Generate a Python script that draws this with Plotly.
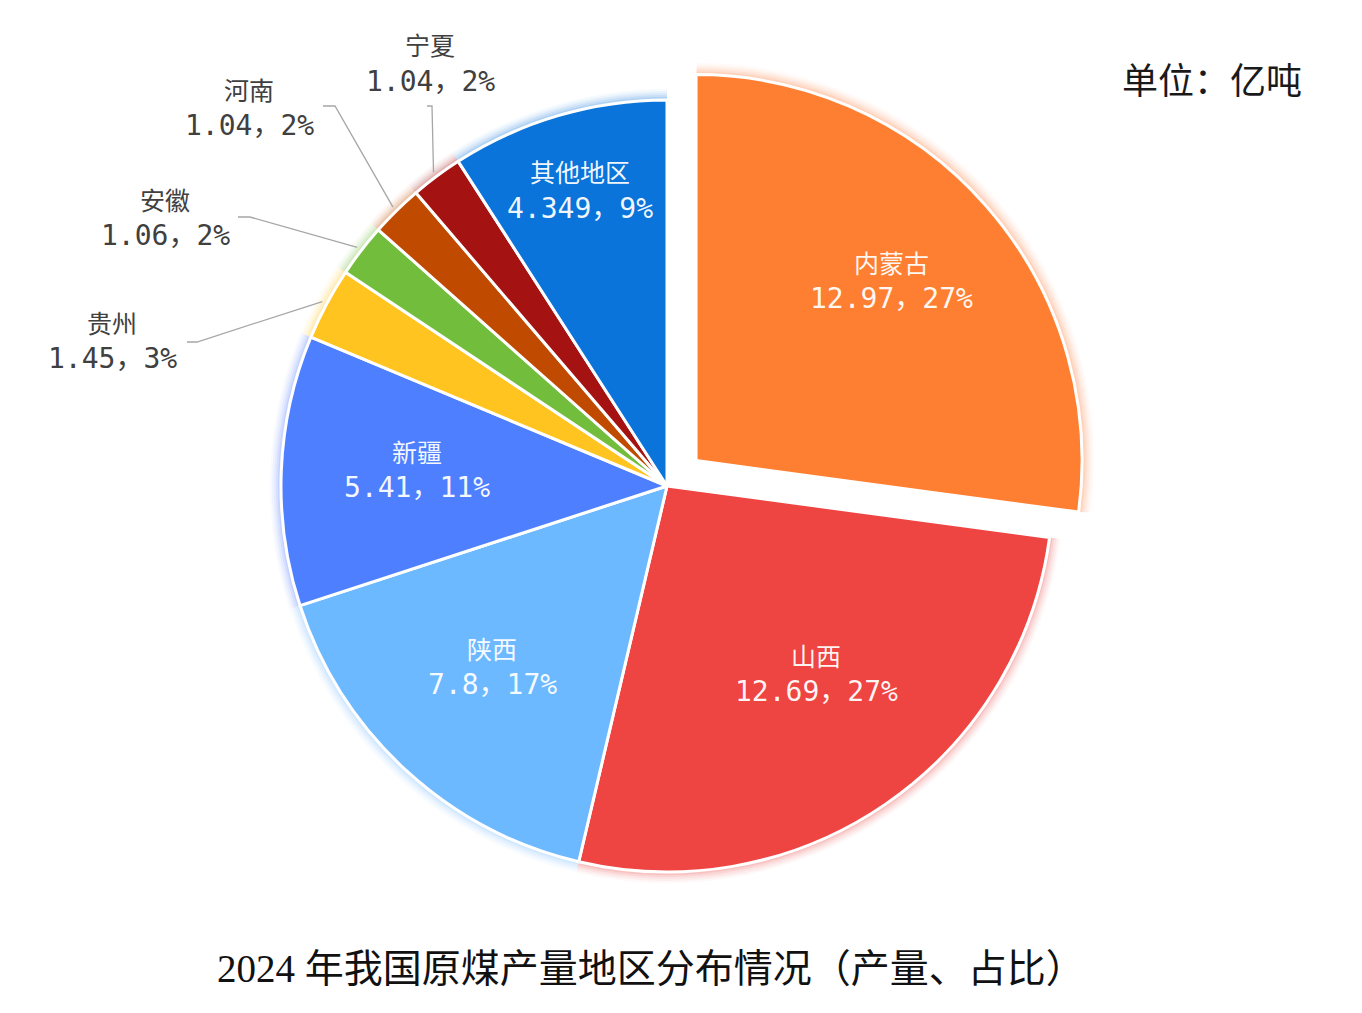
import math
import plotly.graph_objects as go

# ---------------- data ----------------
regions = ["内蒙古", "山西", "陕西", "新疆", "贵州", "安徽", "河南", "宁夏", "其他地区"]
output_yi_t = [12.97, 12.69, 7.8, 5.41, 1.45, 1.06, 1.04, 1.04, 4.349]
value_text = ["12.97", "12.69", "7.8", "5.41", "1.45", "1.06", "1.04", "1.04", "4.349"]
share_text = ["27%", "27%", "17%", "11%", "3%", "2%", "2%", "2%", "9%"]

# ---------------- styling ----------------
colors = ["#FF7F32", "#EE4442", "#6CB9FF", "#4E7FFF", "#FFC41F",
          "#72BE3C", "#C04B00", "#A51212", "#0A74DA"]
pull_list = [0.10, 0, 0, 0, 0, 0, 0, 0, 0]

W, H = 1362, 1013
CX, CY = 667, 486          # pie centre (px)
R = 386                    # pie radius (px)
max_pull = max(pull_list)

def px(x):
    return x / W

def py(y):
    return 1 - y / H

def domain_for(radius):
    half = radius * (1 + max_pull)
    return dict(x=[px(CX - half), px(CX + half)],
                y=[py(CY + half), py(CY - half)])

def rgba(hexc, a):
    h = hexc.lstrip("#")
    r, g, b = int(h[0:2], 16), int(h[2:4], 16), int(h[4:6], 16)
    return f"rgba({r},{g},{b},{a})"

fig = go.Figure()

# soft glow layers underneath
for extra, alpha in [(11, 0.04), (9, 0.05), (7, 0.07), (5, 0.09), (3, 0.12)]:
    fig.add_trace(go.Pie(
        labels=regions, values=output_yi_t, sort=False, direction="clockwise",
        rotation=0, pull=pull_list, domain=domain_for(R + extra),
        marker=dict(colors=[rgba(c, alpha) for c in colors], line=dict(width=0)),
        textinfo="none", hoverinfo="skip", showlegend=False,
    ))

# main pie
fig.add_trace(go.Pie(
    labels=regions, values=output_yi_t, sort=False, direction="clockwise",
    rotation=0, pull=pull_list, domain=domain_for(R),
    marker=dict(colors=colors, line=dict(color="white", width=3)),
    textinfo="none", hoverinfo="label+value+percent", showlegend=False,
))

# ---------------- label geometry derived from the data ----------------
total = sum(output_yi_t)
mid_angles = []
acc = 0.0
for v in output_yi_t:
    mid_angles.append((acc + v / 2) / total * 360.0)
    acc += v

def polar(cx, cy, ang, rad):
    a = math.radians(ang)
    return cx + rad * math.sin(a), cy - rad * math.cos(a)

name_font = dict(family="Noto Sans CJK SC", size=25)
val_font = dict(family="DejaVu Sans Mono, Noto Sans CJK SC", size=28)
LINE_GAP = 37

annotations = []
shapes = []

# inside labels: (angle shift in degrees, radius fraction) relative to slice mid-angle
inside_r = {"内蒙古": (-1.5, 0.69), "山西": (-4.0, 0.62), "陕西": (1.5, 0.65),
            "新疆": (1.5, 0.65), "其他地区": (0.0, 0.80)}
# outside labels: label centre (px), leader end and bend (px)
outside_pos = {
    "贵州": ((112, 340), [(187, 342), (197, 342)]),
    "安徽": ((165, 217), [(238, 217), (250, 217)]),
    "河南": ((249, 107), [(323, 106), (335, 106)]),
    "宁夏": ((430, 63), [(427, 106), (432, 106)]),
}

for i, name in enumerate(regions):
    ang = mid_angles[i]
    p = pull_list[i]
    ccx, ccy = polar(CX, CY, ang, p * R)
    if name in inside_r:
        dang, rf = inside_r[name]
        lx, ly = polar(ccx, ccy, ang + dang, rf * R)
        col = "rgba(255,255,255,0.95)"
    else:
        (lx, ly), pts = outside_pos[name]
        col = "#404040"
        ex, ey = polar(ccx, ccy, ang, R + 5)
        path_pts = pts + [(ex, ey)]
        path = "M " + " L ".join(f"{px(x):.5f},{py(y):.5f}" for x, y in path_pts)
        shapes.append(dict(type="path", xref="paper", yref="paper", path=path,
                           line=dict(color="#A6A6A6", width=1.3)))
    annotations.append(dict(x=px(lx), y=py(ly - LINE_GAP / 2), xref="paper", yref="paper",
                            text=name, showarrow=False, xanchor="center", yanchor="middle",
                            font=dict(color=col, **name_font)))
    annotations.append(dict(x=px(lx), y=py(ly + LINE_GAP / 2), xref="paper", yref="paper",
                            text=f"{value_text[i]}，{share_text[i]}", showarrow=False,
                            xanchor="center", yanchor="middle",
                            font=dict(color=col, **val_font)))

# unit + caption
annotations.append(dict(x=px(1212), y=py(78), xref="paper", yref="paper", text="单位：亿吨",
                        showarrow=False, xanchor="center", yanchor="middle",
                        font=dict(family="Noto Sans CJK SC", size=36, color="#1a1a1a")))
annotations.append(dict(x=px(651), y=py(968), xref="paper", yref="paper",
                        text="2024 年我国原煤产量地区分布情况（产量、占比）",
                        showarrow=False, xanchor="center", yanchor="middle",
                        font=dict(family="Liberation Serif, Noto Sans CJK SC", size=39, color="#111111")))

fig.update_layout(
    width=W, height=H,
    margin=dict(l=0, r=0, t=0, b=0),
    paper_bgcolor="white", plot_bgcolor="white",
    showlegend=False,
    annotations=annotations,
    shapes=shapes,
)

fig.write_html("out.html")
